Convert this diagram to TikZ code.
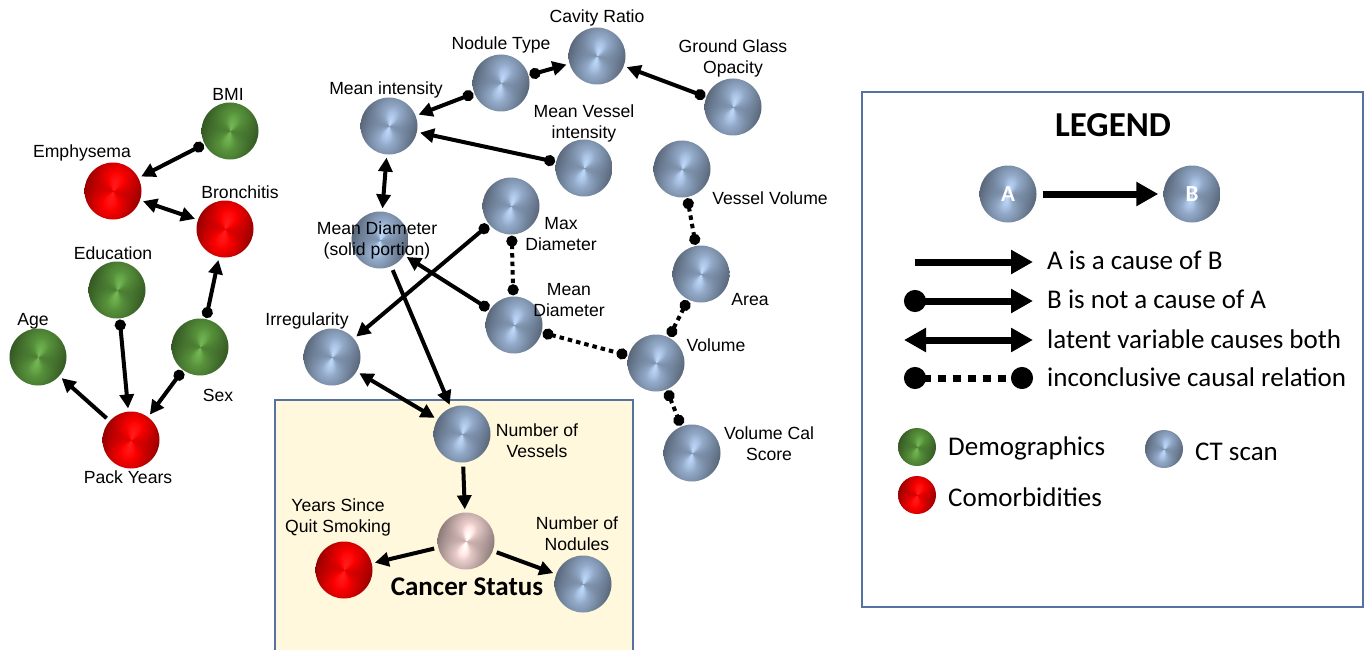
\documentclass[tikz,border=0pt]{standalone}
\usepackage{fontspec}
\setmainfont{Liberation Sans}
\newfontfamily\calibri{Carlito}
\usetikzlibrary{arrows.meta}
\definecolor{boxblue}{HTML}{5572A0}
\definecolor{cream}{HTML}{FFF8DC}
% conical "brushed metal" sphere shading: #1 name, #2 #3 #4 base rgb, #5 highlight whitening
\newcommand\mkballshade[5]{%
  \pgfdeclarefunctionalshading{#1}{\pgfpoint{-50bp}{-50bp}}{\pgfpoint{50bp}{50bp}}{}{%
    exch 0.0013 add exch
    2 copy exch atan 2 mul 150 sub cos 0.13 mul
    3 1 roll dup mul exch dup mul add 625 div 0.28 mul neg add 1.01 add
    dup 1 sub dup abs add 0.5 mul #5 mul
    1 index #2 mul 1 index add
    2 index #3 mul 2 index add
    3 index #4 mul 3 index add
    5 3 roll pop pop
  }}
\mkballshade{ctball}{0.57}{0.66}{0.78}{0.7}
\mkballshade{grball}{0.34}{0.57}{0.23}{0.5}
\mkballshade{rdball}{0.98}{0.0}{0.0}{0.8}
\mkballshade{pkball}{0.90}{0.79}{0.78}{0.9}
\tikzset{
  ball/.style={circle, minimum size=57pt, inner sep=0pt, draw=none},
  ct/.style={ball, shading=ctball},
  dem/.style={ball, shading=grball},
  com/.style={ball, shading=rdball},
  canc/.style={ball, shading=pkball},
  lab/.style={font=\fontsize{17.6}{21}\selectfont, align=center, inner sep=0pt},
  edgeline/.style={line width=4pt, black},
  tri/.tip={Triangle[length=14pt,width=14pt]},
  dot/.tip={Circle[length=11pt]},
  cause/.style={edgeline, -tri, shorten >=3pt, shorten <=4pt},
  notcause/.style={edgeline, dot-tri, shorten >=3pt, shorten <=1pt},
  latent/.style={edgeline, tri-tri, shorten >=3pt, shorten <=3pt},
  incon/.style={edgeline, dot-dot, dash pattern=on 4.5pt off 4pt, shorten >=1pt, shorten <=1pt},
  legline/.style={line width=7pt, black},
  bigtri/.tip={Triangle[length=22pt,width=23pt]},
  bigdot/.tip={Circle[length=22pt]},
  legtext/.style={font=\calibri\fontsize{27}{30}\selectfont, anchor=base west, inner sep=0pt},
  panel/.style={draw=boxblue, line width=1.5pt}
}
\begin{document}
\begin{tikzpicture}[x=1pt,y=-1pt]
\useasboundingbox (0,0) rectangle (1370,650);
% panels
\fill[white] (0,0) rectangle (1370,650);
\draw[panel, fill=cream] (275,400) rectangle (633,662);
\draw[panel] (862,92) rectangle (1363,607);

% ---------- demographics / comorbidities ----------
\node[dem] (bmi) at (230,131) {};
\node[com] (emph) at (113,191) {};
\node[com] (bron) at (225,229) {};
\node[dem] (edu) at (117,290) {};
\node[dem] (age) at (38,357) {};
\node[dem] (sex) at (200,347) {};
\node[com] (pack) at (131,440) {};
\node[lab] (lbmi) at (228,94) {BMI};
\node[lab] (lemph) at (82,153) {Emphysema};
\node[lab] (lbron) at (240,192) {Bronchitis};
\node[lab] (ledu) at (113,253) {Education};
\node[lab] (lage) at (33,321) {Age};
\node[lab] (lsex) at (218,395) {Sex};
\node[lab] (lpack) at (128,477) {Pack Years};

% ---------- CT scan ----------
\node[ct] (cav) at (597,56) {};
\node[ct] (nod) at (501,83) {};
\node[ct] (ggo) at (733,107) {};
\node[ct] (mint) at (389,126) {};
\node[ct] (mvi) at (584,168) {};
\node[ct] (vv) at (682,169) {};
\node[ct] (maxd) at (511,206) {};
\node[ct] (mds) at (380,240) {};
\node[ct] (area) at (701,274) {};
\node[ct] (mdia) at (514,325) {};
\node[ct] (irr) at (332,357) {};
\node[ct] (vol) at (656,363) {};
\node[ct] (vcs) at (692,453) {};
\node[ct] (nves) at (462,434) {};
\node[canc] (cancer) at (466,541) {};
\node[com] (ysqs) at (344,570) {};
\node[ct] (nnod) at (583,584) {};

\node[lab] (lcav) at (597,18) {Cavity Ratio};
\node[lab] (lnod) at (501,45) {Nodule Type};
\node[lab] (lggo) at (733,58) {Ground Glass\\Opacity};
\node[lab] (lmint) at (386,90) {Mean intensity};
\node[lab] (lmvi) at (584,123) {Mean Vessel\\intensity};
\node[lab] (lvv) at (770,198) {Vessel Volume};
\node[lab] (lmaxd) at (561,234) {Max\\Diameter};
\node[lab] (lmds) at (377,240) {Mean Diameter\\(solid portion)};
\node[lab] (larea) at (750,300) {Area};
\node[lab] (lmdia) at (569,300) {Mean\\Diameter};
\node[lab] (lirr) at (307,321) {Irregularity};
\node[lab] (lvol) at (716,345) {Volume};
\node[lab] (lvcs) at (769,444) {Volume Cal\\Score};
\node[lab] (lnves) at (537,441) {Number of\\Vessels};
\node[lab] (lysqs) at (338,517) {Years Since\\Quit Smoking};
\node[lab] (lnnod) at (577,534) {Number of\\Nodules};
\node[font=\calibri\bfseries\fontsize{27}{30}\selectfont, anchor=base, inner sep=0pt] (lcancer) at (467,595) {Cancer Status};

% ---------- edges ----------
\draw[notcause] (bmi) -- (emph);
\draw[latent] (emph) -- (bron);
\draw[notcause] (sex) -- (bron);
\draw[notcause] (edu) -- (pack);
\draw[cause] (pack) -- (age);
\draw[notcause] (sex) -- (pack);

\draw[notcause] (nod) -- (cav);
\draw[notcause] (nod) -- (mint);
\draw[notcause] (ggo) -- (cav);
\draw[notcause] (mvi) -- (mint);
\draw[latent] (mint) -- (mds);
\draw[notcause] (maxd) -- (irr);
\draw[notcause] (mdia) -- (mds);
\draw[cause] (mds) -- (nves);
\draw[latent] (irr) -- (nves);
\draw[cause] (nves) -- (cancer);
\draw[cause] (cancer) -- (ysqs);
\draw[cause] (cancer) -- (nnod);

\draw[incon] (maxd) -- (mdia);
\draw[incon] (mdia) -- (vol);
\draw[incon] (vv) -- (area);
\draw[incon] (area) -- (vol);
\draw[incon] (vol) -- (vcs);

% ---------- legend ----------
\node[font=\calibri\bfseries\fontsize{35}{40}\selectfont, anchor=base, inner sep=0pt] (legtitle) at (1113,136) {LEGEND};
\node[ct] (la) at (1008,194) {};
\node[ct] (lb) at (1192,194) {};
\node[font=\calibri\bfseries\fontsize{23}{26}\selectfont, text=white, inner sep=0pt] (lat) at (1008,194) {A};
\node[font=\calibri\bfseries\fontsize{23}{26}\selectfont, text=white, inner sep=0pt] (lbt) at (1192,194) {B};
\draw[legline, -bigtri, shorten <=6pt, shorten >=5pt] (la) -- (lb);

\coordinate (r1s) at (915,262); \coordinate (r1e) at (1033,262);
\coordinate (r2s) at (904,301); \coordinate (r2e) at (1033,301);
\coordinate (r3s) at (904,340); \coordinate (r3e) at (1033,340);
\coordinate (r4s) at (904,378); \coordinate (r4e) at (1033,378);
\draw[legline, -bigtri] (r1s) -- (r1e);
\draw[legline, bigdot-bigtri] (r2s) -- (r2e);
\draw[legline, bigtri-bigtri] (r3s) -- (r3e);
\draw[legline, bigdot-bigdot, dash pattern=on 8pt off 7pt] (r4s) -- (r4e);
\node[legtext] (t1) at (1047,269) {A is a cause of B};
\node[legtext] (t2) at (1047,308) {B is not a cause of A};
\node[legtext] (t3) at (1047,348) {latent variable causes both};
\node[legtext] (t4) at (1047,386) {inconclusive causal relation};

\node[dem, minimum size=38pt] (kdem) at (917,447) {};
\node[com, minimum size=38pt] (kcom) at (917,495) {};
\node[ct, minimum size=38pt] (kct) at (1164,449) {};
\node[legtext] (tdem) at (948,455) {Demographics};
\node[legtext] (tcom) at (948,506) {Comorbidities};
\node[legtext] (tct) at (1195,460) {CT scan};
\end{tikzpicture}
\end{document}
